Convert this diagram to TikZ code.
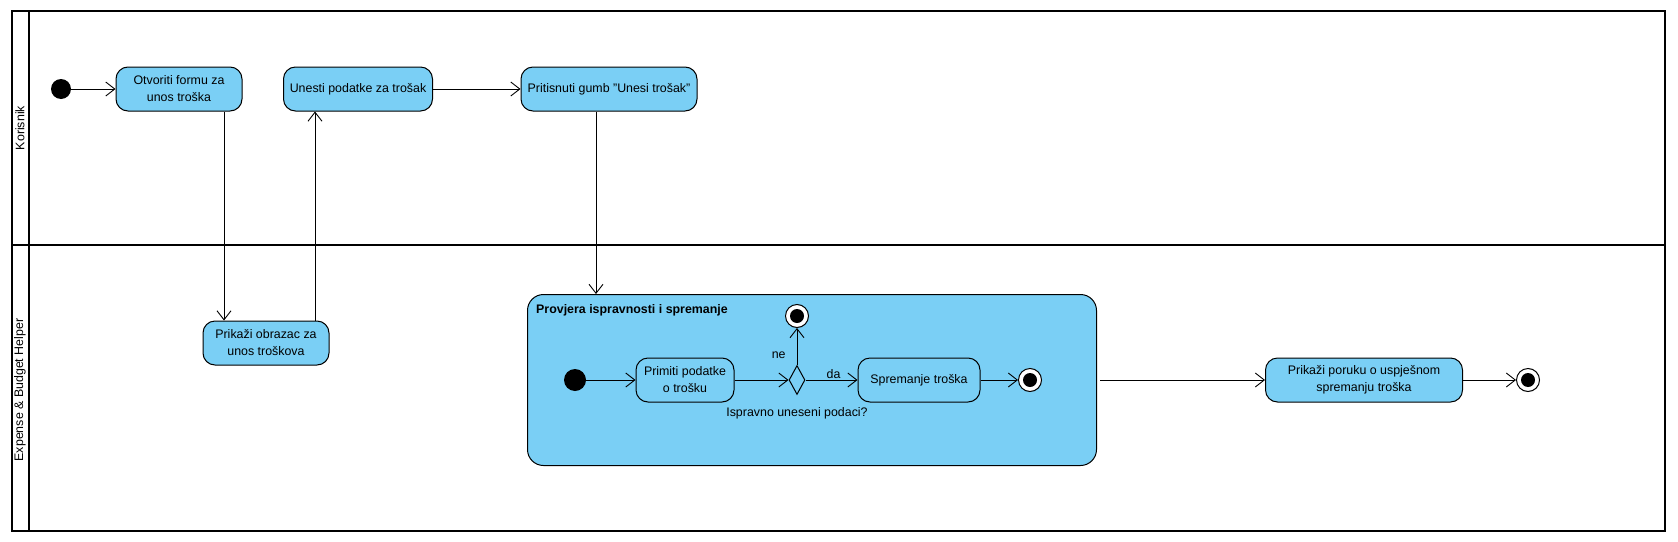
\documentclass[tikz,border=0pt]{standalone}
\usepackage{fontspec}
\setmainfont{Liberation Sans}
\usetikzlibrary{arrows.meta,shapes.geometric}
\definecolor{actblue}{RGB}{122,207,245}

\begin{document}
\begin{tikzpicture}[x=1pt, y=-1pt,
    action/.style={rectangle, rounded corners=12pt, draw, line width=1pt, fill=actblue, minimum height=44pt, align=center, inner sep=2pt, font=\fontsize{12.4}{17}\selectfont},
    group/.style={rectangle, rounded corners=16pt, draw, line width=1pt, fill=actblue},
    start/.style={circle, fill=black, minimum size=20pt, inner sep=0pt},
    final/.style={circle, draw, line width=1pt, fill=white, minimum size=23pt, inner sep=0pt, path picture={\fill[black] (path picture bounding box.center) circle (7pt);}},
    decision/.style={diamond, draw, line width=1pt, fill=actblue, minimum width=16pt, minimum height=29pt, inner sep=0pt},
    lbl/.style={font=\fontsize{12.4}{17}\selectfont, inner sep=1pt},
    arr/.style={line width=0.9pt, -{Straight Barb[length=9pt, width=14pt]}},
    lane/.style={line width=2pt}
]
\useasboundingbox (0,0) rectangle (1678,541);

% Swimlanes
\draw[lane] (12,11) rectangle (1665,531);
\draw[lane] (29,11) -- (29,531);
\draw[lane] (12,245) -- (1665,245);
\node[lbl, rotate=90] (korisnik) at (20,128) {Korisnik};
\node[lbl, rotate=90] (sustav) at (20,390) {Expense \& Budget Helper};

% Nodes
\node[start] (s1) at (61,89) {};
\node[action, minimum width=126pt] (otv) at (179,89) {Otvoriti formu za\\unos troška};
\node[action, minimum width=149pt] (une) at (358,89) {Unesti podatke za trošak};
\node[action, minimum width=176pt] (pri) at (609,89) {Pritisnuti gumb "Unesi trošak"};
\node[action, minimum width=126pt] (obr) at (266,343) {Prikaži obrazac za\\unos troškova};

\node[group, minimum width=569pt, minimum height=171pt] (prov) at (812,380) {};
\node[lbl, font=\fontsize{12.4}{17}\selectfont\bfseries, anchor=north west] (provtxt) at (535,303) {Provjera ispravnosti i spremanje};
\node[start, minimum size=22pt] (s2) at (575,380) {};
\node[action, minimum width=98pt] (prim) at (685,380) {Primiti podatke\\o trošku};
\node[decision] (dec) at (797,380) {};
\node[lbl] (dectxt) at (797,413) {Ispravno uneseni podaci?};
\node[final] (fne) at (797,316) {};
\node[action, minimum width=122pt] (spr) at (919,380) {Spremanje troška};
\node[final] (f2) at (1030,380) {};

\node[action, minimum width=197pt] (por) at (1364,380) {Prikaži poruku o uspješnom\\spremanju troška};
\node[final] (f3) at (1528,380) {};

% Arrows
\draw[arr] (s1) -- (otv);
\draw[arr] ([xshift=45pt]otv.south) -- ([xshift=45pt]otv.south |- obr.north);
\draw[arr] ([xshift=49pt]obr.north) -- ([xshift=49pt]obr.north |- une.south);
\draw[arr] (une) -- (pri);
\draw[arr] ([xshift=-13pt]pri.south) -- ([xshift=-13pt]pri.south |- prov.north);
\draw[arr] (s2) -- (prim);
\draw[arr] (prim) -- (dec);
\draw[arr] (dec) -- node[lbl, above, xshift=2pt] {da} (spr);
\draw[arr] (dec) -- node[lbl, left, xshift=-10pt, yshift=-9pt] {ne} (fne);
\draw[arr] (spr) -- (f2);
\draw[arr] ([xshift=3pt]prov.east) -- (por);
\draw[arr] (por) -- (f3);

\end{tikzpicture}
\end{document}
